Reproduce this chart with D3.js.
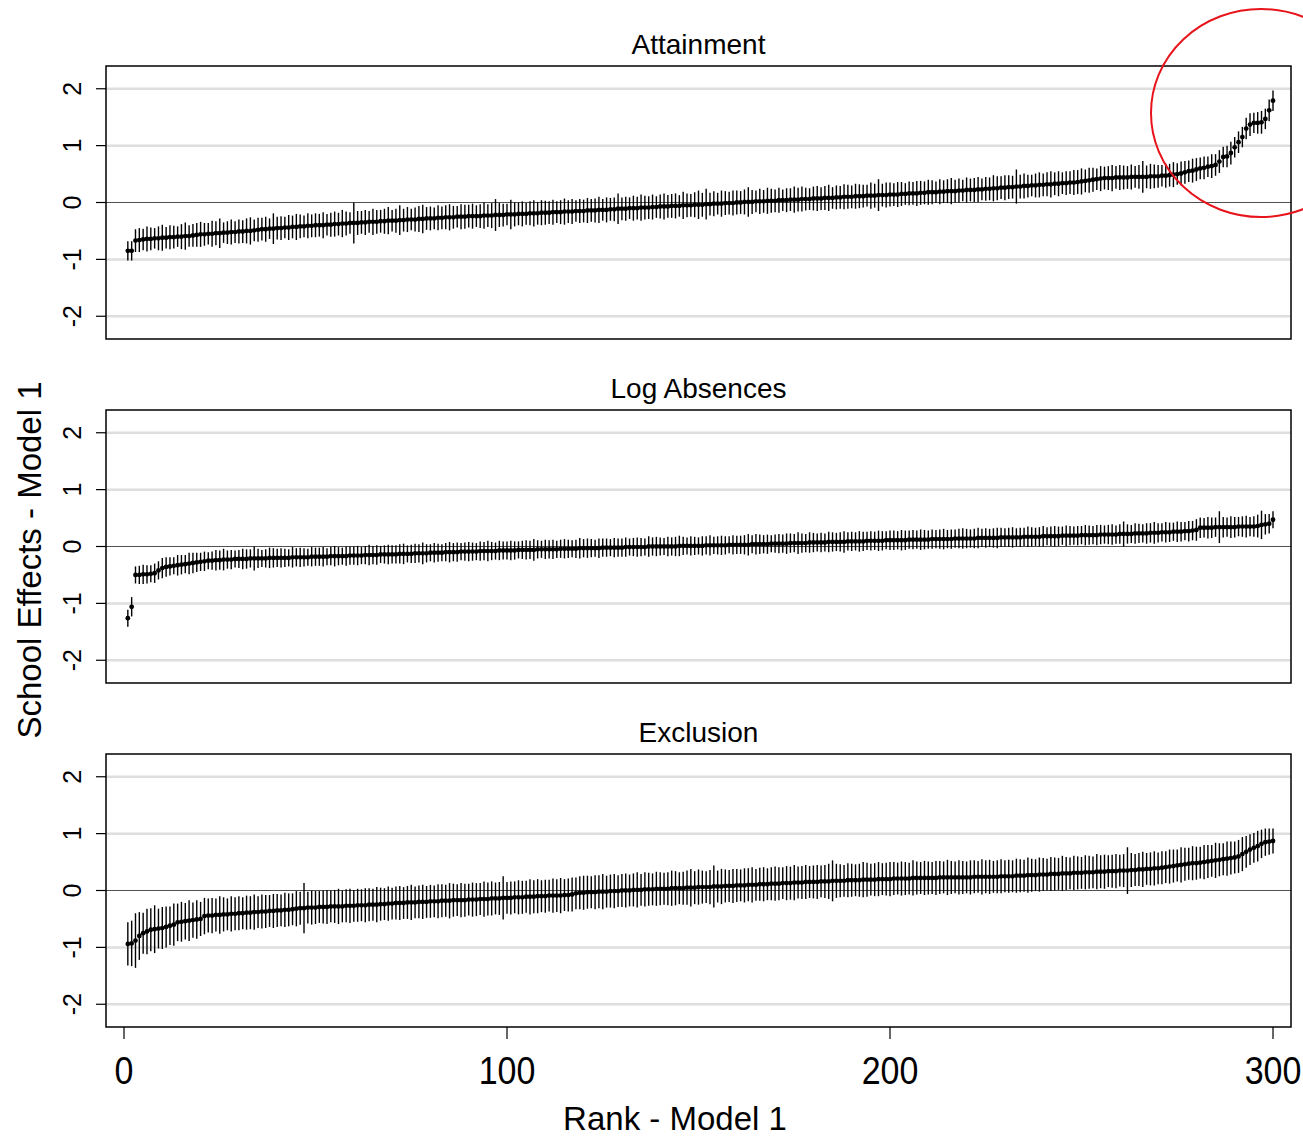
<!DOCTYPE html>
<html><head><meta charset="utf-8">
<script src="https://cdn.jsdelivr.net/npm/d3@7"></script>
<style>
body{margin:0;background:#fff}
svg{display:block}
text{font-family:"Liberation Sans",Arial,sans-serif;fill:#000}
</style>
</head><body>
<svg id="chart" width="1303" height="1138"></svg>
<script>
// ---------- DATA (values in hundredths of a unit) ----------
const panelTitles = ["Attainment", "Log Absences", "Exclusion"];
const yTickValues = [-2, -1, 0, 1, 2];
const xTickValues = [0, 100, 200, 300];
const xTitle = "Rank - Model 1";
const yTitle = "School Effects - Model 1";

const attainmentEst = [
-85,-85,-67,-66,-65,-64,-64,-63,-63,-62,
-62,-61,-61,-60,-60,-59,-59,-58,-57,-56,
-56,-55,-55,-54,-54,-53,-53,-52,-52,-51,
-51,-50,-50,-49,-48,-47,-47,-46,-46,-45,
-45,-44,-44,-43,-43,-42,-42,-41,-41,-40,
-40,-40,-39,-39,-38,-38,-37,-37,-36,-36,
-36,-35,-35,-34,-34,-34,-33,-33,-32,-32,
-32,-31,-31,-30,-30,-30,-29,-29,-28,-28,
-28,-27,-27,-26,-26,-26,-25,-25,-25,-24,
-24,-24,-24,-23,-23,-23,-22,-22,-22,-21,
-21,-21,-20,-20,-20,-19,-19,-19,-18,-18,
-18,-17,-17,-17,-16,-16,-16,-15,-15,-15,
-14,-14,-14,-13,-13,-13,-12,-12,-11,-11,
-11,-10,-10,-10,-9,-9,-9,-8,-8,-7,
-7,-7,-6,-6,-6,-5,-5,-5,-4,-4,
-4,-3,-3,-2,-2,-2,-1,-1,-1,0,
0,1,1,1,2,2,2,3,3,3,
4,4,4,5,5,5,6,6,6,7,
7,7,8,8,8,9,9,10,10,10,
11,11,11,12,12,12,13,13,13,14,
14,14,15,15,16,16,16,17,17,18,
18,18,19,19,20,20,20,21,21,22,
22,22,23,23,24,24,25,25,26,26,
27,27,28,28,29,29,30,30,31,31,
32,32,33,33,34,34,35,35,36,37,
38,39,40,41,42,43,43,43,44,44,
44,44,45,45,45,45,45,46,46,46,
47,47,48,49,50,51,53,55,56,58,
60,61,63,64,66,72,80,81,87,97,
106,115,130,137,140,140,141,147,162,179];
const attainmentHalfCI = [
17,17,20,21,19,22,20,18,21,23,
19,21,20,18,22,24,19,20,21,22,
20,19,23,21,26,18,20,22,19,21,
20,22,24,19,21,20,22,18,27,20,
21,19,22,20,23,21,19,22,20,21,
20,23,19,21,22,20,24,21,19,36,
21,20,22,19,23,21,20,22,24,19,
21,26,20,22,19,21,23,25,20,21,
19,22,20,21,23,20,19,22,21,20,
22,19,21,23,20,22,28,21,20,19,
26,21,20,22,19,21,23,20,22,21,
20,22,19,21,23,20,22,19,21,20,
22,20,21,23,19,22,20,21,27,20,
21,19,22,20,23,21,20,22,19,21,
23,20,21,22,19,24,21,20,22,25,
21,27,20,22,19,23,21,20,22,21,
20,22,26,21,19,22,20,23,21,20,
22,19,21,20,23,21,22,20,19,21,
22,20,21,23,19,21,20,22,21,20,
22,21,20,19,23,21,28,20,22,21,
20,22,21,19,21,20,22,21,20,22,
21,19,22,20,21,23,20,21,19,22,
20,21,22,19,21,20,23,21,20,22,
21,20,30,21,22,20,19,21,22,20,
21,23,20,22,19,21,20,22,21,23,
20,22,21,19,22,20,21,23,20,22,
21,20,22,19,21,28,20,22,21,20,
19,21,20,22,19,21,20,19,21,20,
19,20,18,21,19,20,18,19,20,18,
19,18,19,20,18,19,20,18,19,18];

const absencesEst = [
-126,-106,-50,-50,-49,-49,-48,-47,-42,-38,
-36,-35,-34,-33,-32,-31,-30,-29,-28,-27,
-26,-25,-25,-24,-24,-23,-23,-23,-22,-22,
-22,-22,-21,-21,-21,-21,-21,-20,-20,-20,
-20,-20,-20,-19,-19,-19,-19,-19,-18,-18,
-18,-18,-18,-17,-17,-17,-17,-17,-16,-16,
-16,-16,-15,-15,-15,-15,-14,-14,-14,-14,
-14,-13,-13,-13,-13,-12,-12,-12,-12,-11,
-11,-11,-11,-10,-10,-10,-10,-9,-9,-9,
-9,-9,-8,-8,-8,-8,-8,-7,-7,-7,
-7,-7,-6,-6,-6,-6,-6,-5,-5,-5,
-5,-5,-5,-4,-4,-4,-4,-4,-3,-3,
-3,-3,-3,-3,-2,-2,-2,-2,-2,-2,
-1,-1,-1,-1,-1,-1,0,0,0,0,
0,0,0,0,1,1,1,1,1,1,
1,2,2,2,2,2,2,3,3,3,
3,3,3,4,4,4,4,4,5,5,
5,5,5,6,6,6,6,6,7,7,
7,7,7,8,8,8,8,8,9,9,
9,9,9,10,10,10,10,10,11,11,
11,11,11,11,12,12,12,12,12,12,
13,13,13,13,13,13,14,14,14,14,
14,14,15,15,15,15,15,15,16,16,
16,16,16,16,17,17,17,17,17,18,
18,18,18,18,19,19,19,19,19,20,
20,20,20,20,21,21,21,21,21,22,
22,22,22,23,23,23,23,24,24,24,
25,25,25,26,26,26,27,27,28,29,
33,33,33,33,34,34,34,34,34,34,
35,35,35,35,35,36,38,39,40,47];
const absencesHalfCI = [
15,17,15,16,17,16,15,17,16,18,
17,16,15,18,17,16,19,18,17,16,
17,15,16,18,17,19,16,17,15,16,
18,17,16,21,17,15,16,18,17,16,
17,16,15,18,16,17,16,15,17,16,
16,17,15,16,18,16,15,17,16,16,
17,15,16,18,16,17,15,16,17,16,
16,17,18,15,16,17,16,19,16,15,
17,16,15,16,18,16,17,15,16,17,
16,15,17,16,18,16,15,17,16,16,
17,16,15,16,17,16,19,16,15,17,
16,17,15,16,17,16,15,16,18,16,
17,16,15,17,16,16,15,17,16,16,
17,15,16,17,16,15,18,16,17,16,
15,17,16,17,18,16,15,17,16,15,
17,16,18,15,16,17,16,15,17,16,
16,17,19,16,18,17,16,17,15,16,
17,16,18,17,16,19,17,16,18,17,
16,17,16,18,17,16,17,19,16,17,
16,18,17,16,17,16,18,17,16,17,
17,16,18,17,16,17,16,18,17,16,
17,16,17,18,16,17,16,17,18,17,
16,17,18,16,17,16,17,18,17,16,
17,18,16,17,16,18,17,16,17,18,
16,17,18,17,16,18,17,16,17,16,
18,17,16,18,17,16,17,18,16,17,
22,17,16,18,17,16,18,17,19,17,
16,18,17,16,18,17,16,18,17,19,
18,17,19,18,17,28,18,17,19,18,
17,18,19,17,18,20,25,18,17,15];

const exclusionEst = [
-94,-93,-88,-80,-75,-72,-69,-68,-67,-66,
-64,-62,-60,-56,-55,-54,-53,-52,-51,-50,
-45,-44,-44,-43,-43,-42,-42,-41,-41,-40,
-40,-39,-39,-38,-38,-37,-37,-36,-36,-35,
-35,-34,-34,-33,-32,-31,-31,-30,-30,-30,
-29,-29,-29,-28,-28,-28,-28,-27,-27,-27,
-26,-26,-26,-25,-25,-25,-24,-24,-23,-23,
-22,-22,-22,-21,-21,-21,-20,-20,-20,-19,
-19,-19,-18,-18,-18,-17,-17,-17,-17,-16,
-16,-16,-15,-15,-15,-14,-14,-14,-13,-13,
-13,-12,-12,-12,-11,-11,-11,-10,-10,-10,
-9,-9,-9,-9,-8,-8,-7,-5,-4,-4,
-3,-3,-3,-2,-2,-2,-1,-1,-1,0,
0,0,1,1,1,2,2,2,3,3,
3,3,4,4,4,4,5,5,5,6,
6,6,6,7,7,7,8,8,8,9,
9,9,10,10,10,11,11,11,12,12,
12,13,13,13,14,14,14,15,15,15,
15,16,16,16,17,17,17,17,18,18,
18,18,19,19,19,19,20,20,20,20,
21,21,21,21,21,22,22,22,22,22,
22,22,23,23,23,23,23,23,23,23,
23,24,24,24,24,24,24,24,25,25,
25,25,26,26,26,27,27,27,28,28,
28,29,29,29,30,30,30,31,31,31,
32,32,32,33,33,33,34,34,34,35,
35,35,36,36,37,37,38,38,39,39,
40,41,42,43,44,45,46,47,48,48,
49,50,51,52,53,54,55,56,57,58,
60,64,68,72,75,78,82,85,86,87];
const exclusionHalfCI = [
38,40,48,42,36,40,38,42,35,37,
36,34,37,33,35,32,36,31,34,30,
32,30,31,29,33,30,28,31,29,30,
28,30,29,31,28,30,29,28,30,29,
28,30,29,28,31,29,44,28,30,29,
28,29,30,28,29,31,28,29,30,28,
29,28,30,29,28,31,29,28,30,28,
29,30,28,29,31,28,29,30,28,29,
28,30,29,28,31,29,28,30,29,28,
30,29,28,31,29,30,28,29,38,28,
29,28,30,29,28,31,29,30,28,29,
28,30,29,31,28,29,30,28,29,30,
29,28,30,29,31,28,29,30,28,29,
30,28,29,31,28,30,29,28,30,29,
28,29,31,30,28,29,30,33,29,31,
29,28,30,37,28,31,29,28,30,29,
28,30,29,31,28,29,30,28,29,30,
29,28,30,29,31,28,29,30,28,29,
30,28,29,31,36,30,29,28,30,29,
28,29,31,30,28,29,30,28,29,30,
29,28,30,29,28,31,29,28,30,29,
28,30,29,28,31,29,28,30,29,28,
30,29,28,31,29,30,28,29,30,28,
29,28,30,29,28,31,29,28,30,29,
28,30,29,28,31,29,28,30,29,28,
30,29,28,31,29,30,28,29,30,28,
29,41,30,28,29,31,28,29,30,28,
29,28,30,29,28,31,29,28,30,29,
28,30,29,28,31,29,28,30,29,28,
29,30,28,27,26,27,25,24,23,22];

const panelEstimates = [attainmentEst, absencesEst, exclusionEst];
const panelHalfCIs = [attainmentHalfCI, absencesHalfCI, exclusionHalfCI];

// ---------- DRAW ----------
const svg = d3.select("#chart");
const box = {left: 106, right: 1291};
const panelTops = [66, 410, 754];
const panelHeight = 273;
const x = d3.scaleLinear().domain([0, 300]).range([124, 1273]);

panelTitles.forEach((title, p) => {
  const top = panelTops[p], bottom = top + panelHeight;
  const y = d3.scaleLinear().domain([-2.4, 2.4]).range([bottom, top]);
  const g = svg.append("g");
  const rows = panelEstimates[p].map((v, i) => ({
    rank: i + 1, est: v / 100, lo: (v - panelHalfCIs[p][i]) / 100, hi: (v + panelHalfCIs[p][i]) / 100
  }));

  g.selectAll("line.grid").data(yTickValues.filter(t => t !== 0)).join("line")
    .attr("x1", box.left).attr("x2", box.right)
    .attr("y1", d => y(d)).attr("y2", d => y(d))
    .attr("stroke", "#dedede").attr("stroke-width", 2.5);
  g.append("line").attr("x1", box.left).attr("x2", box.right)
    .attr("y1", y(0)).attr("y2", y(0))
    .attr("stroke", "#505050").attr("stroke-width", 1.2);

  g.selectAll("line.ci").data(rows).join("line")
    .attr("x1", d => x(d.rank)).attr("x2", d => x(d.rank))
    .attr("y1", d => y(d.lo)).attr("y2", d => y(d.hi))
    .attr("stroke", "#000").attr("stroke-width", 1.4);

  g.selectAll("circle").data(rows).join("circle")
    .attr("cx", d => x(d.rank)).attr("cy", d => y(d.est))
    .attr("r", 2.4).attr("fill", "#000");

  g.append("rect").attr("x", box.left).attr("y", top)
    .attr("width", box.right - box.left).attr("height", panelHeight)
    .attr("fill", "none").attr("stroke", "#000").attr("stroke-width", 1.5);

  g.selectAll("line.yt").data(yTickValues).join("line")
    .attr("x1", 96).attr("x2", box.left)
    .attr("y1", d => y(d)).attr("y2", d => y(d))
    .attr("stroke", "#000").attr("stroke-width", 1.2);
  g.selectAll("text.yl").data(yTickValues).join("text")
    .attr("transform", d => `translate(81,${y(d)}) rotate(-90)`)
    .attr("text-anchor", "middle").attr("font-size", 25)
    .text(d => d);

  g.append("text").attr("x", (box.left + box.right) / 2).attr("y", top - 12)
    .attr("text-anchor", "middle").attr("font-size", 28).text(title);

  if (p === panelTitles.length - 1) {
    g.selectAll("line.xt").data(xTickValues).join("line")
      .attr("x1", d => x(d)).attr("x2", d => x(d))
      .attr("y1", bottom).attr("y2", bottom + 12)
      .attr("stroke", "#000").attr("stroke-width", 1.2);
    g.selectAll("text.xl").data(xTickValues).join("text")
      .attr("transform", d => `translate(${x(d)},1084) scale(1,1.15)`)
      .attr("text-anchor", "middle").attr("font-size", 34)
      .text(d => d);
  }
});

svg.append("text").attr("x", 675).attr("y", 1130)
  .attr("text-anchor", "middle").attr("font-size", 33).text(xTitle);
svg.append("text").attr("transform", "translate(41,560) rotate(-90)")
  .attr("text-anchor", "middle").attr("font-size", 33).text(yTitle);

svg.append("ellipse").attr("cx", 1261).attr("cy", 113).attr("rx", 110).attr("ry", 104)
  .attr("fill", "none").attr("stroke", "#e8141b").attr("stroke-width", 2);
</script>
</body></html>
